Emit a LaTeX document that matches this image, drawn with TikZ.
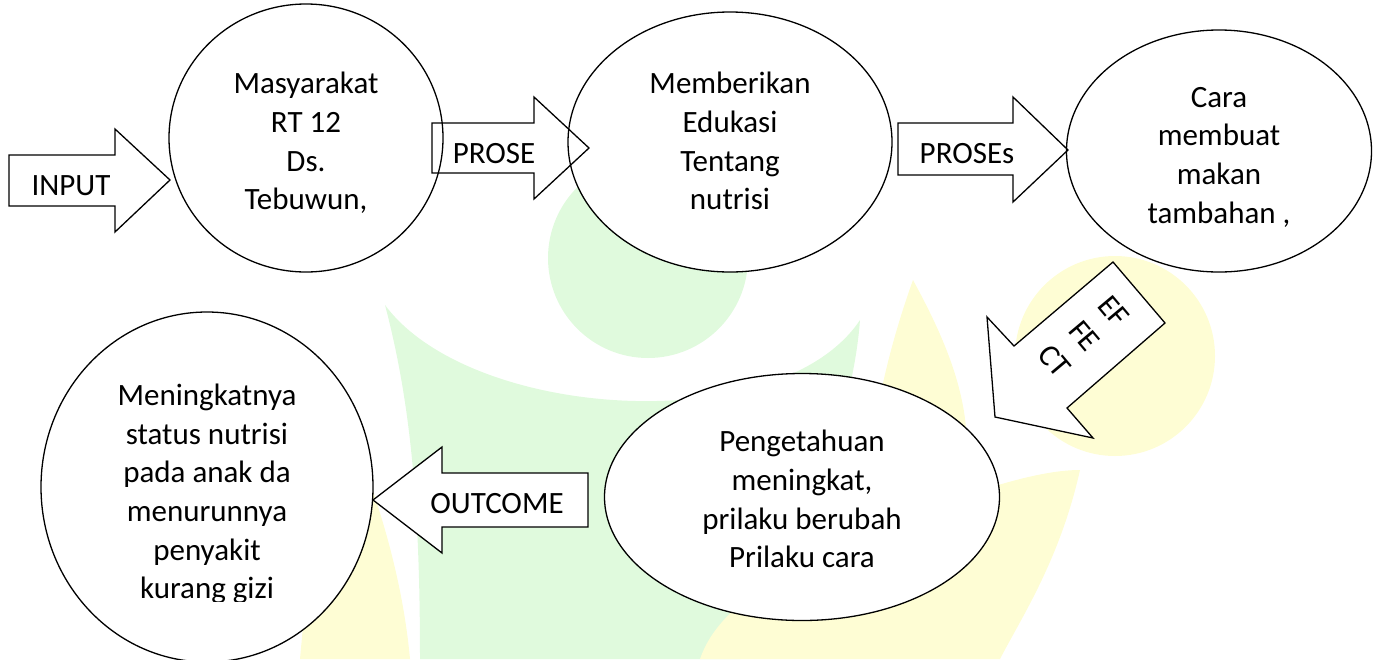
\documentclass[tikz,border=0pt]{standalone}
\usepackage{fontspec}
\setmainfont{Carlito}
\usepackage{tikz}
\usetikzlibrary{shapes.geometric}
\usepackage{xcolor}
\definecolor{wmgreen}{RGB}{224,250,221}
\definecolor{wmyellow}{RGB}{254,253,212}

\begin{document}
\begin{tikzpicture}[x=1pt,y=-1pt,
        every node/.style={font=\fontsize{31}{38.7}\selectfont, text=black},
        bubble/.style={ellipse, draw=black, line width=1.3pt, fill=white, inner sep=0pt},
        blockline/.style={draw=black, line width=1.3pt, line join=miter}]
        \useasboundingbox (0,0) rectangle (1378,659);
        \def\inarrow{(9,155) -- (115,155) -- (115,129) -- (170,180) -- (115,232) -- (115,206) -- (9,206) -- cycle}
        \def\prosearrow{(432,123) -- (534,123) -- (534,97) -- (589,148) -- (534,199) -- (534,173) -- (432,173) -- cycle}
        \def\prosesarrow{(898,123) -- (1013,123) -- (1013,97) -- (1068,150) -- (1013,202) -- (1013,175) -- (898,175) -- cycle}
        \def\effectarrow{(1113,262) -- (1165,323) -- (1067,408) -- (1093,438) -- (995,417) -- (987,317) -- (1014,346) -- cycle}
        \def\outarrow{(588,473) -- (442,473) -- (442,447) -- (373,500) -- (442,553) -- (442,527) -- (588,527) -- cycle}
        \fill [wmgreen] (385,305) .. controls (470,420) and (780,440) .. (860,320) .. controls (850,450) and (780,560) .. (740,659) -- (420,659) .. controls (420,500) and (410,400) .. cycle;
        \fill [wmgreen] (648,258) circle (100pt);
        \fill [wmyellow] (1115,356) circle (100pt);
        \fill [wmyellow] (913,280) .. controls (940,330) and (975,400) .. (965,470) -- (870,470) .. controls (875,400) and (895,330) .. cycle;
        \fill [wmyellow] (700,659) .. controls (720,600) and (800,560) .. (900,520) .. controls (1000,480) and (1050,470) .. (1080,470) .. controls (1060,560) and (1020,620) .. (1000,659) -- cycle;
        \fill [wmyellow] (330,380) .. controls (360,450) and (400,550) .. (410,659) -- (300,659) .. controls (310,550) and (320,450) .. cycle;
        \fill [white] \inarrow;
        \fill [white] \prosearrow;
        \fill [white] \prosesarrow;
        \fill [white] \effectarrow;
        \fill [white] \outarrow;
        \node [bubble, minimum width=274pt, minimum height=268pt] (masyarakat) at (306,138) {};
        \node [bubble, minimum width=324pt, minimum height=260pt] (edukasi) at (730,142) {};
        \node [bubble, minimum width=305pt, minimum height=242pt] (cara) at (1219,151) {};
        \node [bubble, minimum width=395pt, minimum height=247pt] (pengetahuan) at (802,497) {};
        \node [bubble, minimum width=332pt, minimum height=350pt] (hasil) at (207,487) {};
        \draw [blockline] \inarrow;
        \draw [blockline] \prosearrow;
        \draw [blockline] \prosesarrow;
        \draw [blockline] \effectarrow;
        \draw [blockline] \outarrow;
        \node [align=center] (masyarakattext) at ([yshift=-5pt]masyarakat.center) {Masyarakat\\RT 12\\Ds.\\Tebuwun,};
        \node [align=center] (edukasitext) at ([yshift=1pt]edukasi.center) {Memberikan\\Edukasi\\Tentang\\nutrisi};
        \node [align=center] (caratext) at ([yshift=-6pt]cara.center) {Cara\\membuat\\makan\\tambahan ,};
        \node [align=center] (pengetahuantext) at ([yshift=-2pt]pengetahuan.center) {Pengetahuan\\meningkat,\\prilaku berubah\\Prilaku cara};
        \node [anchor=base] (input) at (71,195) {INPUT};
        \node [anchor=base] (prose) at (494,163) {PROSE};
        \node [anchor=base] (proses) at (967,163) {PROSEs};
        \node [anchor=base] (outcome) at (497,513) {OUTCOME};
        \node [rotate=-50, align=center] (effect) at (1084,336) {EF\\FE\\CT};
        \begin{scope}
        \clip (0,0) rectangle (1378,601);
        \node [align=center] (hasiltext) at ([yshift=-7pt]hasil.center) {Meningkatnya\\status nutrisi\\pada anak da\\menurunnya\\penyakit\\kurang gizi};
        \end{scope}
    \end{tikzpicture}
\end{document}
